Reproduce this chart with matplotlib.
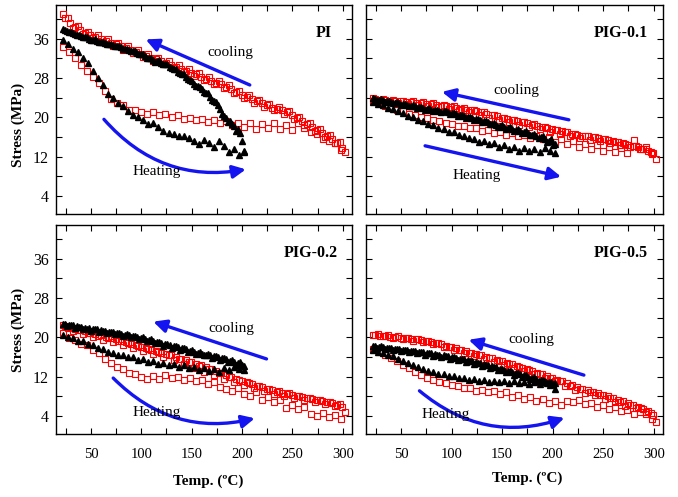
import matplotlib
matplotlib.use("Agg")
import matplotlib.pyplot as plt

plt.rcParams['font.family'] = ['Liberation Serif', 'DejaVu Serif']

t_red_cool = [302, 297, 292, 287, 282, 277, 272, 267, 262, 257, 252, 247, 242, 237, 232,
              227, 222, 217, 212, 207, 202, 197, 192, 187, 182, 177, 172, 167, 162, 157,
              152, 147, 142, 137, 132, 127, 122, 117, 112, 107, 102, 97, 92, 87, 82,
              77, 72, 67, 62, 57, 52, 47, 42, 37, 32, 27, 22]
t_red_cool_b = [299.5, 294.5, 289.5, 284.5, 279.5, 274.5, 269.5, 264.5, 259.5, 254.5, 249.5,
                244.5, 239.5, 234.5, 229.5, 224.5, 219.5, 214.5, 209.5, 204.5, 199.5, 194.5,
                189.5, 184.5, 179.5, 174.5, 169.5, 164.5, 159.5, 154.5, 149.5, 144.5, 139.5,
                134.5, 129.5, 124.5, 119.5, 114.5, 109.5, 104.5, 99.5, 94.5, 89.5, 84.5,
                79.5, 74.5, 69.5, 64.5, 59.5, 54.5, 49.5, 44.5, 39.5, 34.5, 29.5, 24.5]
t_blk_cool = [202, 198, 194, 190, 186, 182, 178, 174, 170, 166, 162, 158, 154, 150, 146,
              142, 138, 134, 130, 126, 122, 118, 114, 110, 106, 102, 98, 94, 90, 86,
              82, 78, 74, 70, 66, 62, 58, 54, 50, 46, 42, 38, 34, 30, 26, 22]
t_blk_cool_b = [200, 196, 192, 188, 184, 180, 176, 172, 168, 164, 160, 156, 152, 148, 144,
                140, 136, 132, 128, 124, 120, 116, 112, 108, 104, 100, 96, 92, 88, 84,
                80, 76, 72, 68, 64, 60, 56, 52, 48, 44, 40, 36, 32, 28, 24]
t_blk_heat = [22, 27, 32, 37, 42, 47, 52, 57, 62, 67, 72, 77, 82, 87, 92, 97, 102, 107,
              112, 117, 122, 127, 132, 137, 142, 147, 152, 157, 162, 167, 172, 177, 182,
              187, 192, 197, 202]
t_red_heat = [22, 28, 34, 40, 46, 52, 58, 64, 70, 76, 82, 88, 94, 100, 106, 112, 118, 124,
              130, 136, 142, 148, 154, 160, 166, 172, 178, 184, 190, 196, 202, 208, 214,
              220, 226, 232, 238, 244, 250, 256, 262, 268, 274, 280, 286, 292, 298]

# stress (MPa) ---------------------------------------------------------- PI
pi_red_cool = [13.0, 14.9, 14.8, 16.4, 16.0, 17.6, 17.2, 18.9, 18.5, 20.1, 19.7, 21.3, 20.7, 22.1, 21.4,
               22.7, 22.2, 23.6, 23.0, 24.5, 23.9, 25.4, 25.0, 26.5, 26.0, 27.4, 26.8, 28.2, 27.6, 29.1,
               28.5, 29.8, 29.2, 30.6, 30.0, 31.4, 30.8, 32.2, 31.5, 32.9, 32.4, 33.7, 33.1, 34.5, 33.8,
               35.2, 34.6, 35.9, 35.3, 36.7, 36.1, 37.5, 37.0, 38.6, 38.3, 40.2, 41.0]
pi_red_cool_b = [13.8, 14.8, 15.5, 16.2, 16.8, 17.4, 18.0, 18.7, 19.3, 19.9, 20.5, 21.0, 21.4, 21.7,
                 22.0, 22.5, 22.9, 23.3, 23.7, 24.2, 24.6, 25.2, 25.7, 26.2, 26.7, 27.1, 27.5, 27.9,
                 28.3, 28.8, 29.1, 29.5, 29.9, 30.3, 30.7, 31.1, 31.5, 31.8, 32.2, 32.6, 33.0, 33.4,
                 33.8, 34.1, 34.5, 34.9, 35.2, 35.6, 36.0, 36.4, 36.8, 37.2, 37.8, 38.4, 39.2, 40.3]
pi_blk_cool = [13.0, 16.8, 17.2, 18.6, 19.0, 20.3, 21.8, 23.2, 23.6, 24.9, 25.2, 26.2, 26.4, 27.5, 27.8,
               28.8, 29.0, 29.8, 30.0, 30.9, 30.8, 31.6, 31.3, 32.1, 32.2, 32.9, 33.0, 33.5, 33.5, 34.0,
               34.0, 34.6, 34.5, 35.0, 34.9, 35.4, 35.4, 35.9, 35.8, 36.3, 36.3, 36.8, 36.9, 37.4, 37.6, 38.0]
pi_blk_cool_b = [15.2, 17.6, 18.2, 19.3, 19.8, 20.6, 22.6, 23.4, 24.2, 25.0, 25.7, 26.3, 26.9, 27.6, 28.2,
                 28.8, 29.3, 29.8, 30.3, 30.8, 31.1, 31.4, 31.7, 32.1, 32.5, 32.9, 33.2, 33.5, 33.7, 34.0,
                 34.3, 34.5, 34.7, 35.0, 35.2, 35.4, 35.6, 35.8, 36.0, 36.3, 36.6, 36.8, 37.1, 37.4, 37.8]
pi_blk_heat = [35.8, 35.0, 34.0, 33.3, 32.2, 31.0, 29.4, 28.0, 26.6, 24.8, 23.9, 23.0, 22.4, 21.3, 20.4,
               20.1, 19.5, 18.7, 18.9, 18.0, 17.2, 16.9, 16.6, 16.2, 16.3, 15.7, 15.2, 14.6, 15.3, 14.7,
               13.9, 15.2, 14.2, 12.9, 13.6, 12.4, 13.2]
pi_red_heat = [34.4, 33.4, 32.0, 30.6, 29.4, 28.2, 27.1, 25.4, 23.8, 23.0, 22.6, 21.6, 21.4, 21.1, 20.7,
               21.1, 20.5, 20.7, 20.0, 20.4, 19.6, 19.9, 19.4, 19.7, 19.0, 19.4, 18.8, 19.2, 18.5, 18.9,
               18.0, 18.8, 17.6, 18.6, 17.9, 18.9, 17.7, 18.4, 17.4, 18.8, 17.8, 17.0, 16.6, 15.6, 15.1,
               14.7, 13.4]

# ---------------------------------------------------------------- PIG-0.1
g1_red_cool = [11.6, 13.0, 13.5, 13.6, 14.2, 13.9, 14.6, 14.3, 15.0, 14.7, 15.5, 15.1, 15.9, 15.4, 16.2,
               15.8, 16.7, 16.2, 17.0, 16.6, 17.5, 17.1, 18.0, 17.6, 18.6, 18.1, 19.0, 18.5, 19.5, 19.0,
               19.9, 19.4, 20.4, 19.9, 21.0, 20.5, 21.4, 21.0, 22.0, 21.5, 22.3, 21.8, 22.6, 22.1, 22.9,
               22.4, 23.1, 22.6, 23.3, 22.8, 23.4, 23.0, 23.6, 23.1, 23.7, 23.3, 23.9]
g1_red_cool_b = [12.7, 13.2, 13.6, 13.9, 14.2, 14.4, 14.7, 14.9, 15.1, 15.4, 15.6, 15.7, 15.9, 16.1,
                 16.3, 16.5, 16.7, 17.0, 17.2, 17.4, 17.6, 17.8, 18.1, 18.3, 18.5, 18.8, 19.0, 19.3,
                 19.5, 19.7, 19.9, 20.2, 20.4, 20.7, 21.0, 21.2, 21.4, 21.6, 21.8, 22.0, 22.2, 22.3,
                 22.4, 22.6, 22.7, 22.8, 22.9, 23.0, 23.1, 23.2, 23.3, 23.3, 23.4, 23.5, 23.6, 23.7]
g1_blk_cool = [12.8, 15.5, 15.0, 16.2, 15.8, 16.7, 16.4, 17.2, 16.9, 17.6, 17.3, 18.1, 17.7, 18.5, 18.1,
               18.9, 18.6, 19.3, 19.0, 19.7, 19.4, 20.1, 19.8, 20.5, 20.2, 20.9, 20.6, 21.3, 21.0, 21.6,
               21.3, 21.9, 21.6, 22.2, 22.0, 22.5, 22.3, 22.8, 22.6, 23.1, 22.9, 23.4, 23.2, 23.7, 23.6, 24.0]
g1_blk_cool_b = [14.3, 15.2, 15.6, 16.0, 16.3, 16.5, 16.8, 17.1, 17.3, 17.5, 17.7, 17.9, 18.1, 18.3, 18.5,
                 18.7, 19.0, 19.2, 19.4, 19.6, 19.8, 20.0, 20.2, 20.4, 20.6, 20.8, 21.0, 21.2, 21.3, 21.5,
                 21.6, 21.8, 21.9, 22.1, 22.3, 22.4, 22.6, 22.7, 22.9, 23.0, 23.1, 23.3, 23.5, 23.6, 23.8]
g1_blk_heat = [23.2, 22.8, 22.6, 22.0, 21.8, 21.2, 20.9, 20.3, 20.1, 19.5, 19.2, 18.6, 18.5, 17.9, 17.7,
               17.1, 17.0, 16.4, 16.3, 15.7, 15.6, 15.0, 15.1, 14.5, 14.7, 14.0, 14.3, 13.6, 13.9, 13.2,
               13.7, 13.1, 13.6, 12.9, 13.8, 13.2, 14.5]
g1_red_heat = [23.4, 23.0, 22.4, 22.1, 21.5, 21.2, 20.7, 20.5, 20.0, 19.8, 19.4, 19.2, 18.8, 18.7, 18.3,
               18.2, 17.8, 17.8, 17.3, 17.4, 16.9, 17.1, 16.5, 16.9, 16.2, 16.5, 15.8, 16.2, 15.5, 15.9,
               15.0, 15.6, 14.5, 15.1, 14.0, 14.6, 13.6, 14.3, 13.2, 14.0, 13.0, 13.8, 12.8, 15.3, 13.5,
               13.9, 12.6]

# ---------------------------------------------------------------- PIG-0.2
g2_red_cool = [4.8, 6.4, 6.0, 6.9, 6.4, 7.3, 6.9, 7.7, 7.2, 8.1, 7.6, 8.6, 8.1, 9.0, 8.5,
               9.5, 9.1, 10.1, 9.6, 10.6, 10.2, 11.3, 10.9, 12.0, 11.6, 12.8, 12.4, 13.5, 13.0, 14.2,
               13.8, 14.9, 14.6, 15.6, 15.3, 16.3, 16.0, 17.0, 16.6, 17.6, 17.2, 18.2, 17.9, 18.8, 18.5,
               19.3, 19.0, 19.8, 19.5, 20.3, 20.0, 20.9, 20.6, 21.4, 21.3, 22.0, 22.6]
g2_red_cool_b = [5.9, 6.3, 6.6, 6.8, 7.0, 7.2, 7.4, 7.6, 7.8, 8.0, 8.2, 8.5, 8.7, 8.9,
                 9.2, 9.5, 9.8, 10.1, 10.5, 10.9, 11.2, 11.6, 12.0, 12.4, 12.8, 13.1, 13.5, 13.9,
                 14.3, 14.6, 15.0, 15.3, 15.6, 16.0, 16.3, 16.6, 16.9, 17.2, 17.5, 17.8, 18.1, 18.4,
                 18.7, 19.0, 19.3, 19.6, 19.8, 20.1, 20.4, 20.6, 20.9, 21.2, 21.5, 21.8, 22.1, 22.4]
g2_blk_cool = [13.3, 14.9, 14.4, 15.3, 14.9, 15.8, 15.4, 16.2, 15.8, 16.6, 16.3, 17.1, 16.7, 17.5, 17.1,
               17.9, 17.5, 18.3, 17.9, 18.7, 18.3, 19.1, 18.8, 19.6, 19.2, 20.0, 19.6, 20.3, 20.0, 20.6,
               20.3, 20.8, 20.6, 21.1, 20.8, 21.3, 21.0, 21.6, 21.3, 21.8, 21.6, 22.1, 21.9, 22.5, 22.3, 22.8]
g2_blk_cool_b = [14.3, 14.8, 15.0, 15.2, 15.5, 15.7, 15.9, 16.1, 16.3, 16.5, 16.7, 16.9, 17.1, 17.3, 17.6,
                 17.8, 18.0, 18.2, 18.4, 18.6, 18.8, 19.0, 19.2, 19.4, 19.6, 19.8, 20.0, 20.2, 20.4, 20.5,
                 20.7, 20.8, 21.0, 21.1, 21.3, 21.4, 21.6, 21.7, 21.9, 22.0, 22.2, 22.3, 22.5, 22.6, 22.8]
g2_blk_heat = [20.5, 20.0, 19.9, 19.3, 19.2, 18.6, 18.4, 17.8, 17.6, 17.0, 16.9, 16.4, 16.4, 15.9, 16.0,
               15.4, 15.5, 15.0, 15.1, 14.6, 14.8, 14.3, 14.6, 14.0, 14.3, 13.7, 14.0, 13.4, 13.8, 13.2,
               13.6, 12.9, 13.8, 13.4, 14.0, 13.6, 14.2]
g2_red_heat = [20.8, 19.8, 19.5, 18.7, 18.4, 17.5, 16.8, 15.6, 14.8, 13.9, 13.5, 12.8, 12.6, 12.0, 11.6,
               12.2, 11.6, 12.3, 11.8, 11.9, 11.4, 11.7, 11.0, 11.3, 10.4, 10.8, 9.9, 9.5, 9.0, 9.6,
               8.5, 8.0, 8.9, 7.3, 7.8, 6.8, 7.2, 5.6, 6.3, 5.3, 5.8, 4.4, 4.0, 4.5, 3.7,
               4.2, 3.3]

# ---------------------------------------------------------------- PIG-0.5
g5_red_cool = [2.8, 4.6, 4.8, 5.6, 5.5, 6.3, 6.1, 6.9, 6.8, 7.6, 7.5, 8.3, 8.2, 8.8, 8.7,
               9.4, 9.3, 10.1, 10.1, 11.0, 11.0, 11.8, 11.7, 12.6, 12.5, 13.3, 13.1, 13.9, 13.7, 14.6,
               14.3, 15.2, 14.9, 15.7, 15.5, 16.3, 16.1, 16.9, 16.8, 17.5, 17.4, 18.1, 18.0, 18.8, 18.6,
               19.3, 19.0, 19.6, 19.3, 19.9, 19.6, 20.2, 19.9, 20.4, 20.2, 20.7, 20.4]
g5_red_cool_b = [4.2, 4.9, 5.4, 5.8, 6.2, 6.6, 7.0, 7.3, 7.7, 8.0, 8.3, 8.6, 8.9, 9.2,
                 9.5, 9.8, 10.2, 10.6, 11.0, 11.4, 11.8, 12.1, 12.5, 12.8, 13.2, 13.5, 13.8, 14.2,
                 14.5, 14.8, 15.1, 15.4, 15.7, 16.0, 16.3, 16.6, 16.9, 17.2, 17.5, 17.8, 18.0, 18.3,
                 18.6, 18.9, 19.1, 19.3, 19.5, 19.6, 19.7, 19.8, 19.9, 20.0, 20.1, 20.2, 20.3, 20.4]
g5_blk_cool = [9.4, 10.9, 10.6, 11.4, 11.1, 11.9, 11.6, 12.3, 12.0, 12.7, 12.4, 13.2, 12.9, 13.6, 13.3,
               14.0, 13.7, 14.4, 14.1, 14.8, 14.5, 15.2, 14.9, 15.5, 15.3, 15.9, 15.6, 16.2, 15.9, 16.5,
               16.2, 16.8, 16.5, 17.0, 16.8, 17.3, 17.0, 17.5, 17.2, 17.7, 17.5, 17.9, 17.7, 18.2, 17.9, 18.3]
g5_blk_cool_b = [10.4, 10.8, 11.0, 11.3, 11.5, 11.8, 12.0, 12.3, 12.5, 12.7, 13.0, 13.2, 13.4, 13.6, 13.9,
                 14.1, 14.3, 14.5, 14.7, 14.9, 15.1, 15.3, 15.5, 15.6, 15.8, 16.0, 16.2, 16.3, 16.5, 16.6,
                 16.8, 16.9, 17.0, 17.1, 17.2, 17.3, 17.4, 17.5, 17.6, 17.7, 17.8, 17.9, 18.0, 18.1, 18.2]
g5_blk_heat = [17.4, 17.0, 16.8, 16.3, 16.1, 15.5, 15.2, 14.7, 14.4, 13.9, 13.6, 13.2, 13.0, 12.6, 12.5,
               12.1, 12.1, 11.7, 11.7, 11.3, 11.5, 11.1, 11.3, 10.9, 11.2, 10.8, 11.1, 10.7, 11.0, 10.6,
               10.9, 10.5, 10.9, 10.4, 10.8, 10.3, 10.6]
g5_red_heat = [17.6, 17.0, 16.5, 15.8, 15.2, 14.4, 13.7, 12.9, 12.4, 11.8, 11.4, 10.9, 10.7, 10.2, 10.1,
               9.6, 9.6, 9.1, 9.3, 8.8, 9.0, 8.5, 8.8, 7.9, 8.3, 7.5, 7.9, 7.0, 7.4, 6.6,
               7.0, 6.3, 7.1, 6.8, 7.2, 6.4, 6.6, 5.8, 6.2, 5.4, 5.8, 5.0, 5.2, 4.4, 4.7,
               4.3, 3.4]

panels = [
    dict(name='PI', rc=pi_red_cool, rcb=pi_red_cool_b, bc=pi_blk_cool, bcb=pi_blk_cool_b,
         bh=pi_blk_heat, rh=pi_red_heat,
         cool=((207.7, 26.6), (104.3, 35.9)), heat=((62.9, 19.6), (203.8, 9.4)), hrad=0.28,
         cool_txt=(188.4, 33.3), heat_txt=(115, 8.9), lx=0.932),
    dict(name='PIG-0.1', rc=g1_red_cool, rcb=g1_red_cool_b, bc=g1_blk_cool, bcb=g1_blk_cool_b,
         bh=g1_blk_heat, rh=g1_red_heat,
         cool=((216, 19.5), (90.4, 25.2)), heat=((73.8, 14.2), (208.4, 7.9)), hrad=0.0,
         cool_txt=(163.6, 25.4), heat_txt=(124.4, 8.2), lx=0.949),
    dict(name='PIG-0.2', rc=g2_red_cool, rcb=g2_red_cool_b, bc=g2_blk_cool, bcb=g2_blk_cool_b,
         bh=g2_blk_heat, rh=g2_red_heat,
         cool=((224.3, 15.6), (111.8, 23.2)), heat=((72.1, 11.7), (212.7, 3.5)), hrad=0.28,
         cool_txt=(189.6, 21.9), heat_txt=(115, 4.6), lx=0.953),
    dict(name='PIG-0.5', rc=g5_red_cool, rcb=g5_red_cool_b, bc=g5_blk_cool, bcb=g5_blk_cool_b,
         bh=g5_blk_heat, rh=g5_red_heat,
         cool=((230.9, 12.3), (116.8, 19.5)), heat=((68.2, 9.1), (211.7, 3.6)), hrad=0.28,
         cool_txt=(179, 19.5), heat_txt=(94.6, 4.2), lx=0.949),
]

xticks = [25, 50, 75, 100, 125, 150, 175, 200, 225, 250, 275, 300]
xlabels = ['', '50', '', '100', '', '150', '', '200', '', '250', '', '300']
yticks = [4, 8, 12, 16, 20, 24, 28, 32, 36, 40]
ylabels = ['4', '', '12', '', '20', '', '28', '', '36', '']

fig = plt.figure(figsize=(6.78, 4.97), dpi=100)
rects = [[0.0826, 0.5694, 0.4366, 0.4205], [0.5398, 0.5694, 0.4381, 0.4205],
         [0.0826, 0.1268, 0.4366, 0.4205], [0.5398, 0.1268, 0.4381, 0.4205]]

sq = dict(ls='none', marker='s', ms=4.3, mfc='none', mec='red', mew=0.8)
tri = dict(ls='none', marker='^', ms=4.8, color='black')
blue = '#1414f0'
astyle = '-|>,head_length=0.55,head_width=0.27'

for i, (p, r) in enumerate(zip(panels, rects)):
    ax = fig.add_axes(r)
    ax.plot(t_red_heat, p['rh'], **sq)
    ax.plot(t_red_cool, p['rc'], **sq)
    ax.plot(t_red_cool_b, p['rcb'], **sq)
    ax.plot(t_blk_heat, p['bh'], **tri)
    ax.plot(t_blk_cool, p['bc'], **tri)
    ax.plot(t_blk_cool_b, p['bcb'], **tri)

    ax.annotate('', xy=p['cool'][1], xytext=p['cool'][0],
                arrowprops=dict(arrowstyle=astyle, color=blue, lw=2.4, mutation_scale=14,
                                shrinkA=0, shrinkB=0))
    ax.annotate('', xy=p['heat'][1], xytext=p['heat'][0],
                arrowprops=dict(arrowstyle=astyle, color=blue, lw=2.4, mutation_scale=14,
                                shrinkA=0, shrinkB=0,
                                connectionstyle='arc3,rad=%s' % p['hrad']))
    ax.text(*p['cool_txt'], 'cooling', fontsize=11, ha='center', va='center')
    ax.text(*p['heat_txt'], 'Heating', fontsize=11, ha='center', va='center')
    ax.text(p['lx'], 0.866, p['name'], transform=ax.transAxes, fontsize=11.5,
            fontweight='bold', ha='right', va='center')

    ax.set_xlim(15.3, 309.2)
    ax.set_ylim(0.3, 42.9)
    ax.set_xticks(xticks)
    ax.set_yticks(yticks)
    ax.set_xticklabels(xlabels if i >= 2 else [''] * len(xticks), fontsize=10.5)
    ax.set_yticklabels(ylabels if i % 2 == 0 else [''] * len(yticks), fontsize=11.5)
    ax.tick_params(direction='in', top=True, right=True, length=4, width=0.8)
    ax.tick_params(axis='x', pad=10)
    ax.tick_params(axis='y', pad=5)
    for s in ax.spines.values():
        s.set_linewidth(1.0)

fig.text(18 / 678, 1 - 125 / 497, 'Stress (MPa)', rotation=90, fontsize=11,
         fontweight='bold', ha='center', va='center')
fig.text(18 / 678, 1 - 330 / 497, 'Stress (MPa)', rotation=90, fontsize=11,
         fontweight='bold', ha='center', va='center')
fig.text(208 / 678, 1 - 481 / 497, 'Temp. (ºC)', fontsize=11, fontweight='bold',
         ha='center', va='center')
fig.text(527 / 678, 1 - 478 / 497, 'Temp. (ºC)', fontsize=11, fontweight='bold',
         ha='center', va='center')

fig.savefig('out.png', dpi=100)
